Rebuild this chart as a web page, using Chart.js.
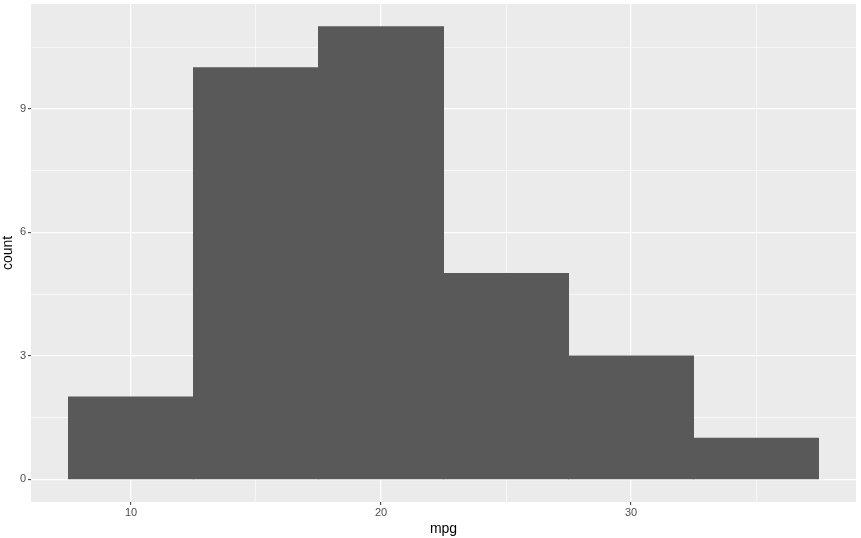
<!DOCTYPE html>
<html>
<head>
<meta charset="utf-8">
<script src="https://cdn.jsdelivr.net/npm/chart.js@4"></script>
<style>
  html, body { margin: 0; padding: 0; background: #fff; }
  #wrap { width: 861px; height: 538px; }
</style>
</head>
<body>
<div id="wrap"><canvas id="histChart"></canvas></div>
<script>
// bin centres (binwidth 5) and counts
const binCenters = [10, 15, 20, 25, 30, 35];
const counts = [2, 10, 11, 5, 3, 1];
const xTicks = [10, 15, 20, 25, 30, 35];
const xLabels = [10, 20, 30];
const yTicks = [0, 1.5, 3, 4.5, 6, 7.5, 9, 10.5];
const yLabels = [0, 3, 6, 9];

const panelBg = {
  id: 'panelBg',
  beforeDraw(chart) {
    const a = chart.chartArea, c = chart.ctx;
    c.save();
    c.fillStyle = '#EBEBEB';
    c.fillRect(a.left, a.top, a.right - a.left, a.bottom - a.top);
    c.restore();
  }
};

const font = { family: '"Liberation Sans", Arial, sans-serif' };
const isMajor = (c, list) => c.tick && list.includes(c.tick.value);

new Chart(document.getElementById('histChart'), {
  type: 'bar',
  data: {
    datasets: [{
      data: binCenters.map((x, i) => ({ x: x, y: counts[i] })),
      backgroundColor: '#595959',
      borderWidth: 0,
      inflateAmount: 0.5,
      barPercentage: 1,
      categoryPercentage: 1
    }]
  },
  options: {
    responsive: true,
    maintainAspectRatio: false,
    animation: false,
    layout: { padding: { top: 4, right: 5, left: 0, bottom: 0 } },
    plugins: { legend: { display: false }, tooltip: { enabled: false } },
    scales: {
      x: {
        type: 'linear',
        min: 6, max: 39,
        offset: false,
        afterBuildTicks: ax => { ax.ticks = xTicks.map(v => ({ value: v })); },
        afterFit: ax => { ax.height = 36; ax.paddingLeft = 0; ax.paddingRight = 0; },
        border: { display: false },
        grid: {
          offset: false,
          color: '#FFFFFF',
          lineWidth: c => isMajor(c, xLabels) ? 1.3 : 0.6,
          tickLength: 3,
          tickWidth: 1,
          tickColor: c => isMajor(c, xLabels) ? '#333333' : 'rgba(0,0,0,0)'
        },
        ticks: {
          autoSkip: false, maxRotation: 0,
          color: '#4D4D4D', padding: 1,
          font: { ...font, size: 11 },
          callback: v => xLabels.includes(v) ? String(v) : ''
        },
        title: {
          display: true, text: 'mpg', color: '#000000',
          font: { ...font, size: 14 }, padding: { top: 0, bottom: 0 }
        }
      },
      y: {
        type: 'linear',
        min: -0.55, max: 11.55,
        afterBuildTicks: ax => { ax.ticks = yTicks.map(v => ({ value: v })); },
        afterFit: ax => { ax.width = 31; ax.paddingTop = 0; ax.paddingBottom = 0; },
        border: { display: false },
        grid: {
          color: '#FFFFFF',
          lineWidth: c => isMajor(c, yLabels) ? 1.3 : 0.6,
          tickLength: 3,
          tickWidth: 1,
          tickColor: c => isMajor(c, yLabels) ? '#333333' : 'rgba(0,0,0,0)'
        },
        ticks: {
          autoSkip: false,
          color: '#4D4D4D', padding: 2,
          font: { ...font, size: 11 },
          callback: v => yLabels.includes(v) ? String(v) : ''
        },
        title: {
          display: true, text: 'count', color: '#000000',
          font: { ...font, size: 14 }, padding: { top: 0, bottom: 0 }
        }
      }
    }
  },
  plugins: [panelBg]
});
</script>
</body>
</html>
